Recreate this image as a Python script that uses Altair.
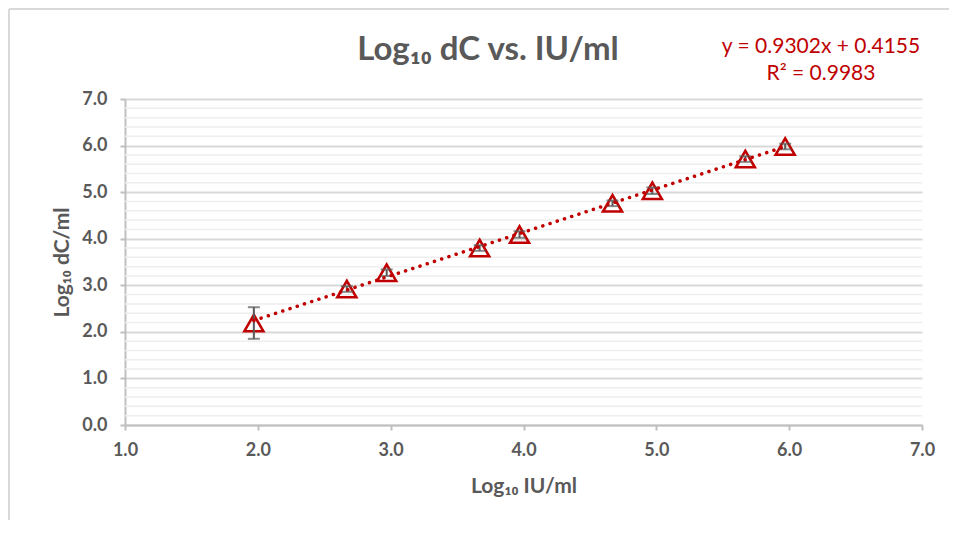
import altair as alt
import pandas as pd

# ---- data ----
log_iu = [1.97, 2.67, 2.97, 3.67, 3.97, 4.67, 4.97, 5.67, 5.97]
log_dc = [2.19, 2.92, 3.27, 3.80, 4.09, 4.76, 5.03, 5.71, 5.98]
err = [0.34, 0.06, 0.07, 0.06, 0.07, 0.06, 0.07, 0.06, 0.06]
minor_grid = [round(i * 0.2, 1) for i in range(1, 35) if i % 5 != 0]
x_ticks = [1, 2, 3, 4, 5, 6, 7]
y_ticks = [0, 1, 2, 3, 4, 5, 6, 7]

title_text = "Log₁₀ dC vs. IU/ml"
eq_lines = ["y = 0.9302x + 0.4155", "R² = 0.9983"]

RED = "#C00000"
GRAY_TXT = "#595959"
FONT = "Lato"

df = pd.DataFrame({"x": log_iu, "y": log_dc, "e": err})
df["lo"] = df["y"] - df["e"]
df["hi"] = df["y"] + df["e"]

W, H = 797, 326

xscale = alt.Scale(domain=[1, 7], nice=False, zero=False)
yscale = alt.Scale(domain=[0, 7], nice=False, zero=False)

xaxis = alt.Axis(values=x_ticks, format=".1f", title="Log₁₀ IU/ml", grid=False,
                 tickSize=5, labelPadding=11, titlePadding=16, labelFlush=False)
yaxis = alt.Axis(values=y_ticks, format=".1f", title="Log₁₀ dC/ml", grid=True,
                 tickSize=5, labelPadding=13, titlePadding=9, labelFlush=False)

base = alt.Chart(df)

minor = alt.Chart(pd.DataFrame({"g": minor_grid})).mark_rule(
    color="#eeeeee", strokeWidth=1.5
).encode(y=alt.Y("g:Q", scale=yscale, axis=yaxis))

points = base.mark_point(
    shape="triangle-up", size=360, filled=False, color=RED, strokeWidth=2.6, opacity=1
).encode(
    x=alt.X("x:Q", scale=xscale, axis=xaxis),
    y=alt.Y("y:Q", scale=yscale, axis=yaxis),
)

err_line = base.mark_rule(color=GRAY_TXT, strokeWidth=2).encode(
    x="x:Q", y="lo:Q", y2="hi:Q"
)
cap_lo = base.mark_tick(color=GRAY_TXT, orient="horizontal", size=12, thickness=2).encode(
    x="x:Q", y="lo:Q"
)
cap_hi = base.mark_tick(color=GRAY_TXT, orient="horizontal", size=12, thickness=2).encode(
    x="x:Q", y="hi:Q"
)

trend = base.transform_regression("x", "y").mark_line(
    color=RED, strokeWidth=3.5, strokeDash=[0.1, 7.5], strokeCap="round"
).encode(x="x:Q", y="y:Q")

title = alt.Chart(pd.DataFrame({"t": [title_text]})).mark_text(
    font=FONT, fontSize=33, fontWeight="bold", color=GRAY_TXT, align="center",
    baseline="alphabetic"
).encode(text="t:N", x=alt.value(363), y=alt.value(-39))

eq = alt.Chart(pd.DataFrame({"t": eq_lines, "dy": [-46, -19]})).mark_text(
    font=FONT, fontSize=21, color=RED, align="center", baseline="alphabetic"
).encode(text="t:N", x=alt.value(696), y=alt.value(0), yOffset=alt.YOffset("dy:Q", scale=None))

border_left = alt.Chart(pd.DataFrame({"a": [0]})).mark_rule(color="#d9d9d9", strokeWidth=2).encode(
    x=alt.value(-116), y=alt.value(-90), y2=alt.value(H + 200)
)
border_top = alt.Chart(pd.DataFrame({"a": [0]})).mark_rule(color="#d9d9d9", strokeWidth=2).encode(
    x=alt.value(-116), x2=alt.value(W + 200), y=alt.value(-90)
)

chart = alt.layer(
    minor, points, err_line, cap_lo, cap_hi, trend, title, eq, border_left, border_top
).properties(
    width=W, height=H,
    background="white",
    autosize=alt.AutoSizeParams(type="none"),
    padding={"left": 117, "top": 91, "right": 27, "bottom": 95},
).configure_view(stroke=None).configure_axis(
    labelFont=FONT, titleFont=FONT, labelFontSize=18, titleFontSize=21,
    labelFontWeight="bold", titleFontWeight="bold",
    labelColor=GRAY_TXT, titleColor=GRAY_TXT,
    domainColor="#bfbfbf", domainWidth=2, tickColor="#bfbfbf", tickWidth=2,
    gridColor="#d9d9d9", gridWidth=2,
)

chart.save("out.html", embed_options={"renderer": "svg", "actions": False})
